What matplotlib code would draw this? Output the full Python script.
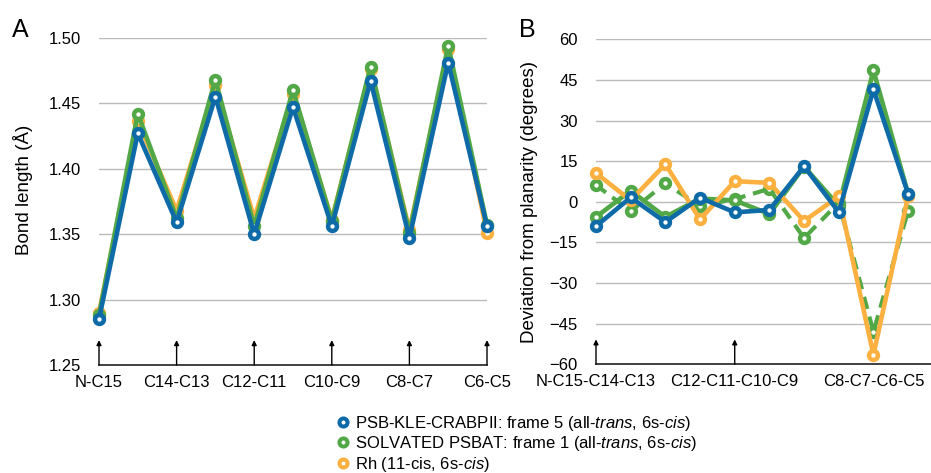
import matplotlib

matplotlib.use("Agg")
import matplotlib.pyplot as plt
from matplotlib.lines import Line2D

plt.rcParams["font.family"] = ["Liberation Sans", "DejaVu Sans"]
plt.rcParams["mathtext.fontset"] = "custom"
plt.rcParams["mathtext.rm"] = "Liberation Sans"
plt.rcParams["mathtext.it"] = "Liberation Sans:italic"

# panel A: bond lengths along the chain
bond_ticks = [0, 2, 4, 6, 8, 10]
bond_labels = ["N-C15", "C14-C13", "C12-C11", "C10-C9", "C8-C7", "C6-C5"]
bond_klecrabp = [1.285, 1.427, 1.359, 1.455, 1.350, 1.447, 1.356, 1.467, 1.347, 1.481, 1.356]
bond_solvated = [1.288, 1.442, 1.362, 1.468, 1.356, 1.460, 1.360, 1.478, 1.351, 1.494, 1.357]
bond_rh = [1.290, 1.436, 1.368, 1.464, 1.362, 1.457, 1.361, 1.476, 1.353, 1.491, 1.351]

# panel B: dihedral deviation from planarity
dih_ticks = [0, 4, 8]
dih_labels = ["N-C15-C14-C13", "C12-C11-C10-C9", "C8-C7-C6-C5"]
dih_arrows = [0, 4]
dih_klecrabp = [-9.0, 1.6, -7.5, 1.5, -3.9, -3.0, 13.1, -3.8, 41.5, 2.9]
dih_solvated = [-5.6, 4.1, -5.6, 1.2, 0.5, -4.5, 13.0, -1.5, 48.5, 3.0]
dih_solvated_alt = [6.2, -3.5, 6.8, -1.5, 1.0, 4.8, -13.4, -0.3, -48.0, -3.3]
dih_rh = [10.6, 0.5, 13.9, -6.5, 7.6, 7.0, -7.1, 2.0, -56.5, 2.0]

BLUE = "#0E6BA8"
GREEN = "#52A847"
ORANGE = "#FBB040"

legend_labels = [
    r"PSB-KLE-CRABPII: frame 5 (all-$\it{trans}$, 6s-$\it{cis}$)",
    r"SOLVATED PSBAT: frame 1 (all-$\it{trans}$, 6s-$\it{cis}$)",
    r"Rh (11-cis, 6s-$\it{cis}$)",
]

W, H = 931, 473


def style(ax):
    for side in ("left", "right", "top"):
        ax.spines[side].set_visible(False)
    ax.spines["bottom"].set_color("#222222")
    ax.spines["bottom"].set_linewidth(1.2)
    ax.grid(axis="y", color="#BBBBBB", lw=1.0)
    ax.set_axisbelow(True)
    ax.tick_params(axis="both", length=0, labelsize=12)
    ax.tick_params(axis="y", pad=13)
    ax.tick_params(axis="x", pad=7)


def series(ax, x, y, color, ls="-", z=2, lw=3.3):
    ax.plot(x, y, linestyle=ls, color=color, lw=lw, marker="o", ms=6.4, mew=3.2,
            mfc="white", mec=color, zorder=z, clip_on=False)


fig = plt.figure(figsize=(W / 100, H / 100), dpi=100)

# ---- panel A
axA = fig.add_axes([99 / W, 1 - 365 / H, 388 / W, 327.3 / H])
style(axA)
xa = list(range(len(bond_klecrabp)))
series(axA, xa, bond_rh, ORANGE, z=2)
series(axA, xa, bond_solvated, GREEN, z=3)
series(axA, xa, bond_klecrabp, BLUE, z=4)
axA.set_xlim(0, 10)
axA.set_ylim(1.25, 1.50)
axA.set_yticks([1.25, 1.30, 1.35, 1.40, 1.45, 1.50])
axA.set_yticklabels(["%.2f" % v for v in [1.25, 1.30, 1.35, 1.40, 1.45, 1.50]])
axA.set_xticks(bond_ticks)
axA.set_xticklabels(bond_labels)
axA.set_ylabel("Bond length (Å)", fontsize=13.5)
axA.yaxis.set_label_coords(-0.17, 0.535)
for xt in bond_ticks:
    axA.annotate("", xy=(xt, 1.269), xytext=(xt, 1.25),
                 arrowprops=dict(arrowstyle="-|>", lw=1.0, color="black",
                                 mutation_scale=7, shrinkA=0, shrinkB=0))

# ---- panel B
axB = fig.add_axes([596 / W, 1 - 364.3 / H, 335 / W, 325 / H])
style(axB)
xb = list(range(len(dih_klecrabp)))
series(axB, xb, dih_solvated_alt, GREEN, ls=(0, (3.0, 1.9)), z=2, lw=3.0)
series(axB, xb, dih_solvated, GREEN, z=3)
series(axB, xb, dih_rh, ORANGE, z=4)
series(axB, xb, dih_klecrabp, BLUE, z=5)
axB.set_xlim(0, 9.66)
axB.set_ylim(-60, 60)
axB.set_yticks(range(-60, 61, 15))
axB.set_xticks(dih_ticks)
axB.set_xticklabels(dih_labels)
axB.set_ylabel("Deviation from planarity (degrees)", fontsize=13.5)
axB.yaxis.set_label_coords(-0.173, 0.5)
for xt in dih_arrows:
    axB.annotate("", xy=(xt, -50.8), xytext=(xt, -60),
                 arrowprops=dict(arrowstyle="-|>", lw=1.0, color="black",
                                 mutation_scale=7, shrinkA=0, shrinkB=0))

# panel letters
fig.text(12 / W, 1 - 37 / H, "A", fontsize=18, va="baseline")
fig.text(519 / W, 1 - 37 / H, "B", fontsize=18, va="baseline")

# legend
handles = [Line2D([], [], ls="none", marker="o", ms=5.8, mew=2.9, mfc="white", mec=c)
           for c in (BLUE, GREEN, ORANGE)]
fig.legend(handles, legend_labels, loc="upper left",
           bbox_to_anchor=(334.6 / W, 1 - 413.5 / H), frameon=False, fontsize=12,
           borderpad=0, borderaxespad=0, handlelength=1.0, handletextpad=0.25,
           labelspacing=0.1)

fig.savefig("out.png", dpi=100)
plt.close(fig)
